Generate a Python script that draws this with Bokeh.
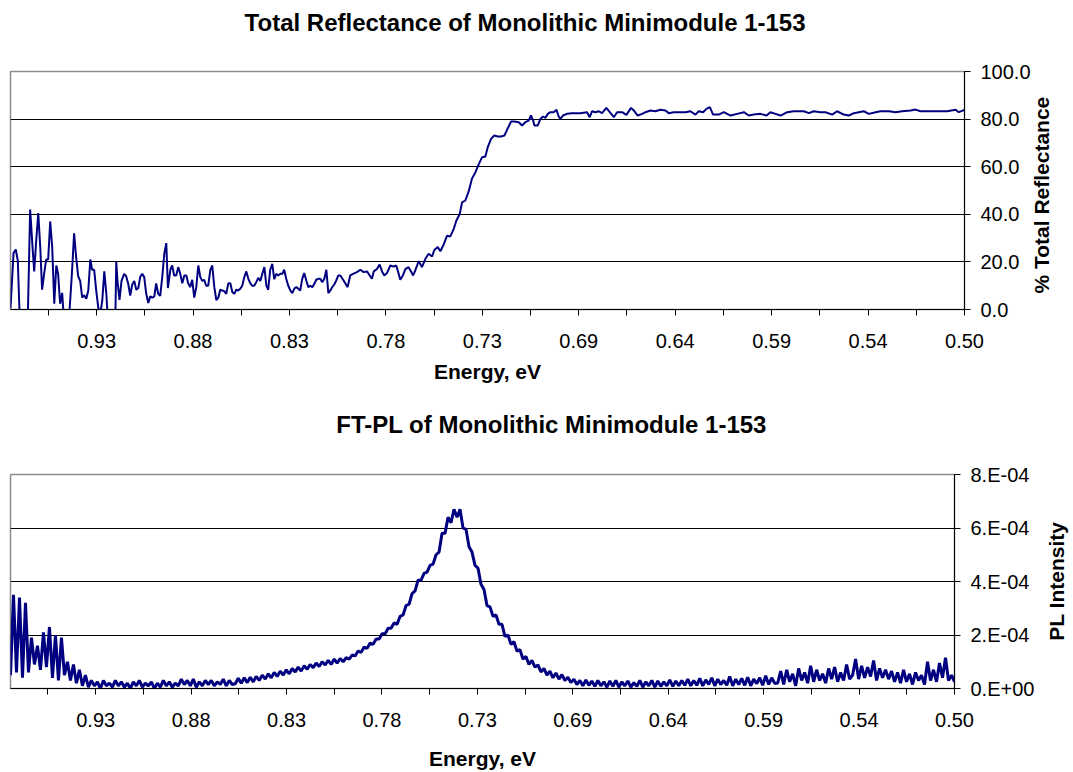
from bokeh.plotting import figure
from bokeh.layouts import row
from bokeh.models import (Range1d, FixedTicker, CustomJSTickFormatter, PrintfTickFormatter,
                          LinearAxis, Label)
from bokeh.embed import file_html
from bokeh.resources import INLINE
import numpy as np

# ---------------- data: total reflectance (top panel) ----------------
refl_energy = [
    0.9677, 0.9662, 0.9651, 0.9641, 0.9632, 0.9613, 0.9596, 0.9591, 0.9580, 0.9568,
    0.9560, 0.9550, 0.9540, 0.9530, 0.9521, 0.9511, 0.9501, 0.9491, 0.9481, 0.9471,
    0.9461, 0.9451, 0.9442, 0.9432, 0.9422, 0.9415, 0.9399, 0.9386, 0.9374, 0.9363,
    0.9353, 0.9343, 0.9333, 0.9323, 0.9313, 0.9303, 0.9293, 0.9283, 0.9274, 0.9264,
    0.9254, 0.9244, 0.9234, 0.9224, 0.9214, 0.9204, 0.9198, 0.9176, 0.9159, 0.9155,
    0.9149, 0.9139, 0.9129, 0.9116, 0.9106, 0.9096, 0.9086, 0.9076, 0.9066, 0.9056,
    0.9046, 0.9037, 0.9027, 0.9017, 0.9007, 0.8997, 0.8987, 0.8977, 0.8967, 0.8958,
    0.8948, 0.8938, 0.8928, 0.8918, 0.8908, 0.8900, 0.8888, 0.8879, 0.8869, 0.8859,
    0.8849, 0.8839, 0.8829, 0.8819, 0.8809, 0.8800, 0.8790, 0.8780, 0.8770, 0.8760,
    0.8750, 0.8740, 0.8730, 0.8721, 0.8711, 0.8701, 0.8691, 0.8681, 0.8671, 0.8661,
    0.8651, 0.8642, 0.8632, 0.8622, 0.8612, 0.8602, 0.8592, 0.8582, 0.8572, 0.8563,
    0.8553, 0.8543, 0.8533, 0.8523, 0.8513, 0.8503, 0.8493, 0.8484, 0.8474, 0.8464,
    0.8454, 0.8444, 0.8434, 0.8424, 0.8414, 0.8405, 0.8395, 0.8385, 0.8375, 0.8365,
    0.8355, 0.8345, 0.8335, 0.8326, 0.8316, 0.8306, 0.8296, 0.8286, 0.8276, 0.8266,
    0.8256, 0.8247, 0.8237, 0.8227, 0.8217, 0.8207, 0.8197, 0.8187, 0.8177, 0.8168,
    0.8158, 0.8148, 0.8138, 0.8128, 0.8118, 0.8108, 0.8098, 0.8089, 0.8079, 0.8069,
    0.8059,
    0.8049, 0.8033, 0.8013, 0.8000, 0.7986, 0.7967, 0.7950, 0.7934, 0.7917, 0.7904,
    0.7893, 0.7884, 0.7868, 0.7855, 0.7843, 0.7832, 0.7819, 0.7802, 0.7786, 0.7773,
    0.7761, 0.7753, 0.7740, 0.7728, 0.7712, 0.7700, 0.7690, 0.7679, 0.7662, 0.7646,
    0.7629, 0.7613, 0.7596, 0.7585, 0.7568, 0.7555, 0.7539, 0.7522, 0.7506, 0.7489,
    0.7476, 0.7460, 0.7448, 0.7432, 0.7415, 0.7399, 0.7382, 0.7366, 0.7349, 0.7333,
    0.7322, 0.7305, 0.7289, 0.7272, 0.7256, 0.7239, 0.7226, 0.7206, 0.7190, 0.7168,
    0.7152, 0.7136, 0.7119, 0.7108, 0.7098, 0.7091, 0.7075, 0.7061, 0.7048, 0.7037,
    0.7025, 0.7012, 0.6996, 0.6982, 0.6971, 0.6963, 0.6950, 0.6930, 0.6905, 0.6864,
    0.6831, 0.6818, 0.6806, 0.6790, 0.6773, 0.6757, 0.6736, 0.6719, 0.6699, 0.6683,
    0.6658, 0.6637, 0.6614, 0.6600, 0.6581, 0.6559, 0.6543, 0.6518, 0.6494, 0.6469,
    0.6444, 0.6428, 0.6403, 0.6378,
    0.6370, 0.6345, 0.6321, 0.6296, 0.6280, 0.6258, 0.6242, 0.6225, 0.6209, 0.6181,
    0.6156, 0.6123, 0.6090, 0.6057, 0.6033, 0.6008, 0.5975, 0.5945, 0.5926, 0.5901,
    0.5876, 0.5843, 0.5811, 0.5761, 0.5736, 0.5712, 0.5679, 0.5654, 0.5621, 0.5597,
    0.5564, 0.5539, 0.5514, 0.5490, 0.5465, 0.5440, 0.5407, 0.5383, 0.5341, 0.5308,
    0.5276, 0.5234, 0.5210, 0.5185, 0.5119, 0.5053, 0.5012, 0.4996, 0.4968,
]
refl_percent = [
    0.5, 23.7, 25.2, 20.6, -2, -4, -3, -1, 42, 26,
    16, 29, 40.5, 26, 8.3, 15, 21, 21, 37, 26,
    2.4, 18.5, 15, 2.4, 7, -2, -4, -1, 15, 32,
    22, 14, 12, 5, 6, 4.5, 8, 21, 16.7, 16.7,
    8, 1, -2, 3.8, 16, 6.6, -2, -4, -1, 20,
    12, 4, 12, 15, 14, 10.8, 5.9, 10.5, 12, 8.3,
    9, 13.6, 15, 13.6, 6.6, 2.7, 5.5, 5, 5.5, 11,
    6.6, 5.7, 13.6, 23.4, 27.9, 9, 16.7, 18.5, 14.3, 14.3,
    17.8, 15, 11, 14.3, 14.3, 11, 9.4, 12.5, 5, 9.4,
    18.5, 13.6, 12, 12.5, 10, 10, 16.4, 18.5, 9.4, 4,
    5, 8.3, 8, 7.7, 6.6, 11, 11, 7.3, 6.6, 8.3,
    8, 8.7, 10, 13.6, 16, 12.9, 11, 10, 10, 11.5,
    13.3, 12, 15, 17.8, 10, 8.3, 16.7, 19.2, 12.7, 15,
    14.3, 15, 15, 16.7, 12.9, 10, 8, 6.9, 8.8, 9.4,
    8.7, 8, 12.9, 15.3, 12.2, 9.4, 10, 9.4, 10.8, 12.5,
    12.9, 12.9, 11.5, 12.9, 16.7, 6.9, 8, 9.4, 10.5, 12.2,
    14.3,
    14.3, 12.2, 9.4, 14.3, 15, 15.7, 16.7, 15.7, 16, 14.3,
    12.9, 16, 17, 18.9, 16, 14.3, 15.3, 18.5, 18, 18.5,
    15, 12.5, 14.3, 17, 17.8, 16, 14.3, 16.4, 20.3, 17.8,
    21.3, 23.4, 22.3, 25, 26.2, 24.5, 27.3, 31, 30.7, 33.9,
    37.4, 40, 45, 45.8, 49.7, 55, 57.7, 61, 64, 64.3,
    68, 71.7, 73.1, 72.7, 72.7, 73.1, 75.5, 79, 79, 78.7,
    77.3, 78.7, 79.4, 81.5, 79.7, 77.3, 77.3, 80.1, 81.1, 80.5,
    82.2, 82.9, 82.9, 83.9, 81.1, 80.1, 81.5, 82.2, 82.5, 82.5,
    82.9, 80.8, 83.3, 82.9, 83.3, 82.5, 84.7, 82.9, 80.8, 82.9,
    82.9, 81.8, 84.7, 83.6, 81.5, 82.2, 82.9, 83.6, 83.3, 83.9,
    83.6, 82.5, 82.9, 82.9,
    82.9, 82.9, 83.3, 81.9, 83.3, 82.9, 84.3, 85, 81.9, 81.9,
    82.9, 81.5, 82.2, 82.9, 81.5, 81.9, 82.2, 81.5, 82.9, 82.2,
    81.5, 82.9, 83.3, 83.3, 82.5, 83.3, 82.9, 82.9, 81.9, 83.3,
    81.9, 81.5, 82.5, 82.9, 83.3, 82.2, 82.9, 83.3, 83.3, 82.9,
    83.3, 83.6, 84, 83.3, 83.3, 83.3, 83.9, 82.9, 83.9,
]

# ---------------- data: FT-PL (bottom panel), evenly sampled spectrum ----------------
pl_energy_first = 0.9677
pl_energy_last = 0.4968
pl_intensity_e4 = [  # PL intensity in units of 1E-04
    0.5, 3.5, 0.6, 3.4, 0.4, 3.2, 0.6, 1.9, 0.9, 1.6, 0.7, 2.1, 0.8, 2.3, 0.4, 2.0, 0.3, 1.9,
    0.5, 1.0, 0.3, 0.9, 0.2, 0.7, 0.1, 0.5,
    0.05, 0.3, 0.1, 0.25, 0.0, 0.3, 0.1, 0.2, 0.05, 0.3,
    0.1, 0.25, 0.05, 0.2, 0.0, 0.25, 0.1, 0.3, 0.05, 0.2,
    0.1, 0.25, 0.0, 0.2, 0.05, 0.3, 0.1, 0.25, 0.05, 0.2,
    0.1, 0.35, 0.15, 0.3, 0.1, 0.35, 0.05, 0.25, 0.1, 0.3,
    0.15, 0.3, 0.1, 0.25, 0.15, 0.35, 0.1, 0.3, 0.15,
    0.18, 0.38, 0.2, 0.4, 0.22, 0.42, 0.25, 0.45, 0.3, 0.5,
    0.35, 0.55, 0.4, 0.6, 0.45, 0.65, 0.5, 0.7, 0.55, 0.75,
    0.62, 0.8, 0.65, 0.85, 0.72, 0.9, 0.78, 0.95, 0.82, 1.0,
    0.88, 1.05, 0.9, 1.1, 0.95, 1.12,
    1.0, 1.15, 1.1, 1.25, 1.22, 1.4, 1.35, 1.55, 1.5, 1.7,
    1.65, 1.85, 1.85, 2.05, 2.05, 2.25, 2.25, 2.45, 2.4, 2.7,
    2.75, 3.1, 3.15, 3.55, 3.65, 4.05, 4.05, 4.3, 4.35, 4.6,
    4.65, 5.0, 5.1, 5.8, 5.8, 6.4, 6.2, 6.7, 6.4, 6.7,
    6.0, 5.95, 5.3, 5.1, 4.6, 4.5, 3.9, 3.7, 3.1, 3.05,
    2.7, 2.75, 2.4, 2.4, 1.95, 2.0, 1.65, 1.75, 1.4, 1.45,
    1.1, 1.2, 0.9, 1.05, 0.8, 0.88, 0.62, 0.75, 0.5, 0.65,
    0.4, 0.58, 0.35, 0.52, 0.3, 0.42, 0.22,
    0.35, 0.15, 0.3, 0.1, 0.32, 0.12, 0.28, 0.08, 0.3, 0.1,
    0.25, 0.05, 0.28, 0.08, 0.3, 0.05, 0.25, 0.1, 0.28, 0.05,
    0.22, 0.08, 0.3, 0.05, 0.25, 0.1, 0.3, 0.05, 0.28, 0.08,
    0.25, 0.1, 0.32, 0.08, 0.28, 0.1, 0.3, 0.12, 0.35, 0.1,
    0.3, 0.12, 0.38, 0.1, 0.32, 0.15, 0.4, 0.1, 0.35, 0.15,
    0.3, 0.12, 0.45, 0.1, 0.35, 0.15, 0.38, 0.12, 0.42, 0.1,
    0.35, 0.18, 0.4, 0.12, 0.48, 0.15, 0.4, 0.2,
    0.2, 0.65, 0.15, 0.7, 0.25, 0.55, 0.1, 0.75, 0.3, 0.6,
    0.2, 0.85, 0.25, 0.7, 0.3, 0.55, 0.2, 0.75, 0.35, 0.8,
    0.25, 0.6, 0.3, 0.9, 0.35,
    0.5, 1.1, 0.35, 0.85, 0.4, 0.8, 0.45, 1.05, 0.3, 0.75, 0.4, 0.7, 0.35, 0.65, 0.25,
    0.6, 0.2, 0.7, 0.25, 0.55, 0.15, 0.6, 0.3, 0.5, 0.15,
    1.0, 0.3, 0.7, 0.25, 0.95, 0.4, 1.15, 0.3, 0.5, 0.25,
]

# ---------------- axes ----------------
x_tick_positions = [0.9252, 0.8776, 0.8300, 0.7824, 0.7348, 0.6872, 0.6396, 0.5920, 0.5444, 0.4968]
x_tick_labels = ["0.93", "0.88", "0.83", "0.78", "0.73", "0.69", "0.64", "0.59", "0.54", "0.50"]
x_minor_positions = [0.9490, 0.9014, 0.8538, 0.8062, 0.7586, 0.7110, 0.6634, 0.6158, 0.5682, 0.5206]
x_left, x_right = 0.9677, 0.4968
refl_y_ticks = [0, 20, 40, 60, 80, 100]
pl_y_ticks = [0, 2e-4, 4e-4, 6e-4, 8e-4]
pl_y_labels = ["0.E+00", "2.E-04", "4.E-04", "6.E-04", "8.E-04"]

FONT = "Liberation Sans"
NAVY = "#000080"


def label_formatter(positions, labels):
    return CustomJSTickFormatter(args=dict(pos=positions, labs=labels), code="""
        let best = -1, bd = Infinity;
        for (let i = 0; i < pos.length; i++) {
            const d = Math.abs(pos[i] - tick);
            if (d < bd) { bd = d; best = i; }
        }
        return (best >= 0 && bd <= 1e-9 + Math.abs(tick) * 1e-6) ? labs[best] : "";
    """)


def text_axis(p, side, text, at, standoff, size, orientation="horizontal"):
    """An axis without line or ticks that carries one text (a title) at a chosen place."""
    ax = LinearAxis(ticker=FixedTicker(ticks=[at], minor_ticks=[]),
                    formatter=label_formatter([at], [text]),
                    axis_line_color=None, major_tick_line_color=None, minor_tick_line_color=None,
                    major_tick_in=0, major_tick_out=0, minor_tick_in=0, minor_tick_out=0,
                    major_label_standoff=standoff, major_label_orientation=orientation,
                    major_label_text_font=FONT, major_label_text_font_size=size,
                    major_label_text_font_style="bold", major_label_text_color="black")
    p.add_layout(ax, side)


def style(p, y_ticks, y_formatter, x_lab_standoff, y_lab_standoff):
    p.background_fill_color = "white"
    p.border_fill_color = "white"
    p.outline_line_color = "#8c8c8c"
    p.outline_line_width = 1.5
    p.xgrid.visible = False
    p.ygrid.ticker = FixedTicker(ticks=y_ticks[1:-1])
    p.ygrid.grid_line_color = "black"
    p.ygrid.grid_line_width = 1

    xa = p.xaxis[0]
    xa.ticker = FixedTicker(ticks=x_tick_positions, minor_ticks=x_minor_positions)
    xa.formatter = label_formatter(x_tick_positions, x_tick_labels)
    ya = p.yaxis[0]
    ya.ticker = FixedTicker(ticks=y_ticks)
    ya.formatter = y_formatter
    for ax in (xa, ya):
        ax.axis_line_color = "black"
        ax.axis_line_width = 1
        ax.major_tick_line_color = "black"
        ax.minor_tick_line_color = "black"
        ax.major_tick_in = 0
        ax.major_tick_out = 6
        ax.minor_tick_in = 0
        ax.minor_tick_out = 6
        ax.major_label_text_font = FONT
        ax.major_label_text_font_size = "20px"
        ax.major_label_text_color = "black"
    ya.minor_tick_line_color = None
    ya.minor_tick_out = 0
    xa.major_label_standoff = 18
    ya.major_label_standoff = y_lab_standoff
    xa.axis_label = "Energy, eV"
    xa.axis_label_text_font = FONT
    xa.axis_label_text_font_size = "21px"
    xa.axis_label_text_font_style = "bold"
    xa.axis_label_text_color = "black"
    xa.axis_label_standoff = x_lab_standoff


# ---------------- top figure: plot area x 10..964, y 71..309 ----------------
p1 = figure(width=1073, height=400, output_backend="svg", toolbar_location=None,
            x_range=Range1d(x_left, x_right), y_range=Range1d(0, 100),
            y_axis_location="right", title=None,
            min_border_left=10, min_border_right=109, min_border_top=71, min_border_bottom=91)
p1.line(refl_energy, refl_percent, line_color=NAVY, line_width=2)
style(p1, refl_y_ticks, PrintfTickFormatter(format="%.1f"), 9, 10)
text_axis(p1, "above", "Total Reflectance of Monolithic Minimodule 1-153", 0.7137, 36, "24px")
text_axis(p1, "right", "% Total Reflectance", 6.7, 8, "21px", orientation=np.pi / 2)

# ---------------- bottom figure: plot area x 10..954, y 474..689 ----------------
pl_energy = np.linspace(pl_energy_first, pl_energy_last, len(pl_intensity_e4))
pl_intensity = [v * 1e-4 for v in pl_intensity_e4]
p2 = figure(width=1044, height=372, output_backend="svg", toolbar_location=None,
            x_range=Range1d(x_left, x_right), y_range=Range1d(0, 8e-4),
            y_axis_location="right", title=None,
            min_border_left=10, min_border_right=90, min_border_top=74, min_border_bottom=83)
p2.line(pl_energy, pl_intensity, line_color=NAVY, line_width=3)
style(p2, pl_y_ticks, label_formatter(pl_y_ticks, pl_y_labels), 17, 10)
text_axis(p2, "above", "FT-PL of Monolithic Minimodule 1-153", 0.6978, 37, "24px")

# narrow strip to the right of the bottom chart that carries its rotated axis title
p2_title = figure(width=29, height=372, output_backend="svg", toolbar_location=None,
                  x_range=Range1d(0, 1), y_range=Range1d(0, 1),
                  x_axis_type=None, y_axis_type=None, title=None,
                  min_border_left=0, min_border_right=0, min_border_top=74, min_border_bottom=83)
p2_title.outline_line_color = None
p2_title.grid.visible = False
p2_title.background_fill_color = "white"
p2_title.border_fill_color = "white"
p2_title.add_layout(Label(x=11.5, y=107.3, x_units="screen", y_units="screen", text="PL Intensity",
                          text_font=FONT, text_font_size="21px", text_font_style="bold",
                          text_color="black", text_align="center", text_baseline="middle",
                          angle=np.pi / 2, angle_units="rad"))

open("out.html", "w").write(file_html([p1, row(p2, p2_title, spacing=0)], INLINE))
